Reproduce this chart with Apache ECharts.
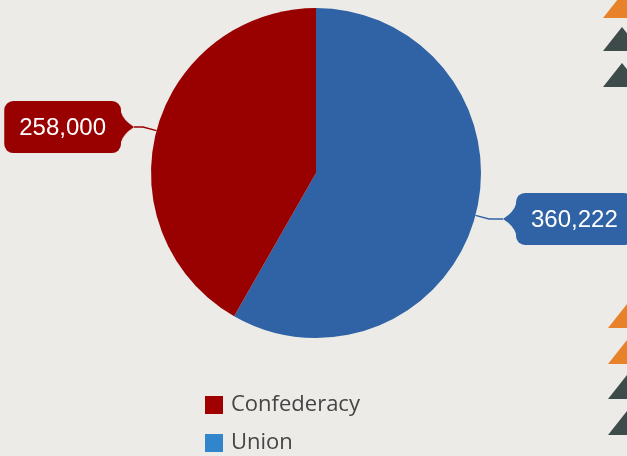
<!DOCTYPE html>
<html>
<head>
<meta charset="utf-8">
<script src="https://cdn.jsdelivr.net/npm/echarts@6/dist/echarts.min.js"></script>
<style>
  html, body { margin: 0; padding: 0; background: #ecebe7; }
  #pie { width: 627px; height: 456px; }
</style>
</head>
<body>
<div id="pie"></div>
<script>
  // data
  var sides = ['Union', 'Confederacy'];
  var deaths = [360222, 258000];
  var legendOrder = ['Confederacy', 'Union'];

  // styles
  var sliceColors = { Union: '#3063a5', Confederacy: '#990000' };
  var legendColors = { Union: '#3185cb', Confederacy: '#a00000' };

  var chart = echarts.init(document.getElementById('pie'));

  // little pointer drawn on a canvas, used as a rich-text background
  function pointer(col, dir) {
    var c = document.createElement('canvas');
    c.width = 13; c.height = 30;
    var g = c.getContext('2d');
    g.fillStyle = col;
    g.beginPath();
    if (dir === 'right') {
      g.moveTo(0, 0); g.quadraticCurveTo(2, 8, 13, 15); g.quadraticCurveTo(2, 22, 0, 30);
    } else {
      g.moveTo(13, 0); g.quadraticCurveTo(11, 8, 0, 15); g.quadraticCurveTo(11, 22, 13, 30);
    }
    g.closePath();
    g.fill();
    return c;
  }

  function labelFor(name, side) {
    var col = sliceColors[name];
    var box = {
      color: '#fff', fontSize: 24, lineHeight: 26, fontFamily: '"Liberation Sans", Arial, sans-serif',
      backgroundColor: col, borderRadius: 9, padding: [15, 15, 13, 15]
    };
    var arrow = { width: 13, height: 30, backgroundColor: { image: pointer(col, side === 'left' ? 'right' : 'left') } };
    return {
      distanceToLabelLine: 0,
      formatter: function (p) {
        var v = echarts.format.addCommas(p.value);
        return side === 'left' ? '{b|' + v + '}{a| }' : '{a| }{b|' + v + '}';
      },
      rich: { a: arrow, b: box }
    };
  }

  var seriesData = sides.map(function (s, i) {
    var left = s === 'Confederacy';
    return {
      name: s,
      value: deaths[i],
      itemStyle: { color: sliceColors[s] },
      label: labelFor(s, left ? 'left' : 'right'),
      labelLine: { length2: left ? 9 : 14 }
    };
  });

  // decorative triangles on the right edge
  var triTops = [
    { y: -6, c: '#e8822a' }, { y: 27, c: '#3d4b4b' }, { y: 63, c: '#3d4b4b' },
    { y: 304, c: '#e8822a' }, { y: 340, c: '#e8822a' }, { y: 375, c: '#3d4b4b' }, { y: 411, c: '#3d4b4b' }
  ];
  var triangles = triTops.map(function (t, i) {
    var ax = i < 3 ? 622 : 627;
    return {
      type: 'polygon', silent: true,
      shape: { points: [[ax, t.y], [ax - 19, t.y + 24], [ax + 19, t.y + 24]] },
      style: { fill: t.c }
    };
  });

  chart.setOption({
    backgroundColor: '#ecebe7',
    animation: false,
    graphic: triangles,
    legend: {
      orient: 'vertical',
      left: 200,
      top: 389,
      height: 80,
      itemWidth: 18,
      itemHeight: 18,
      itemGap: 16,
      icon: 'rect',
      textStyle: { color: '#454545', fontSize: 22, fontFamily: '"Open Sans", Lato, sans-serif', padding: [0, 0, 0, 3] },
      data: legendOrder.map(function (n) { return { name: n, itemStyle: { color: legendColors[n] } }; })
    },
    series: [{
      type: 'pie',
      center: [316, 173],
      radius: 165,
      startAngle: 90,
      clockwise: true,
      avoidLabelOverlap: false,
      label: { show: true, position: 'outside' },
      labelLine: { show: true, length: 14, length2: 10, smooth: false, lineStyle: { width: 1.5 } },
      itemStyle: { borderWidth: 0 },
      emphasis: { disabled: true },
      data: seriesData
    }]
  });
</script>
</body>
</html>
